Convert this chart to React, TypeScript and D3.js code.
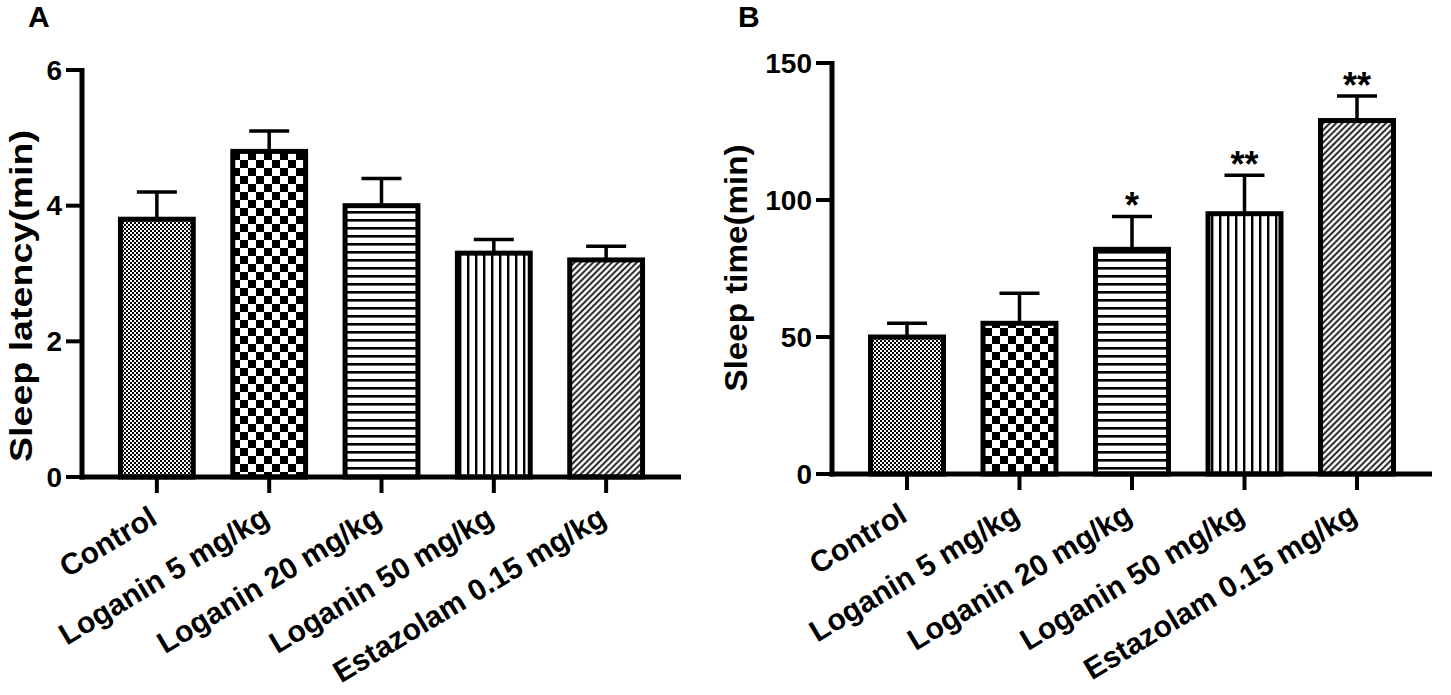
import * as d3 from "d3";

// groups shared by both panels
const groups = [
  "Control",
  "Loganin 5 mg/kg",
  "Loganin 20 mg/kg",
  "Loganin 50 mg/kg",
  "Estazolam 0.15 mg/kg",
];

// panel A: sleep latency (min), mean and upper error
const latencyMean = [3.8, 4.8, 4.0, 3.3, 3.2];
const latencyErr = [0.4, 0.3, 0.4, 0.2, 0.2];
const latencyTicks = [0, 2, 4, 6];

// panel B: sleep time (min), mean and upper error
const sleepMean = [50, 55, 82, 95, 129];
const sleepErr = [5, 11, 12, 14, 9];
const sleepTicks = [0, 50, 100, 150];
const sleepSig = ["", "", "*", "**", "**"];

const patternIds = ["fineCheck", "bigCheck", "hLines", "vLines", "diag"];

const FONT = "'Liberation Sans', Arial, Helvetica, sans-serif";

interface PanelProps {
  letter: string;
  letterX: number;
  title: string;
  titleX: number;
  titleY: number;
  titleLen: number;
  means: number[];
  errs: number[];
  ticks: number[];
  sig?: string[];
  x0: number;
  x1: number;
  yTop: number;
  yZero: number;
}

const Panel = (p: PanelProps) => {
  const xScale = d3
    .scaleBand<string>()
    .domain(groups)
    .range([p.x0, p.x1])
    .paddingInner(0.307)
    .paddingOuter(0.32);

  const yScale = d3
    .scaleLinear()
    .domain([0, d3.max(p.ticks) as number])
    .range([p.yZero, p.yTop]);

  const bw = xScale.bandwidth();

  return (
    <g>
      <text
        x={p.letterX}
        y={27}
        fontFamily={FONT}
        fontWeight="bold"
        fontSize={30}
      >
        {p.letter}
      </text>

      <text
        transform={`translate(${p.titleX}, ${p.titleY}) rotate(-90)`}
        textAnchor="middle"
        dominantBaseline="central"
        fontFamily={FONT}
        fontWeight="bold"
        fontSize={31}
        textLength={p.titleLen}
        lengthAdjust="spacingAndGlyphs"
      >
        {p.title}
      </text>

      {/* bars */}
      {groups.map((g, i) => {
        const x = xScale(g) as number;
        const y = yScale(p.means[i]);
        return (
          <rect
            key={g}
            x={x + 2.5}
            y={y}
            width={bw - 5}
            height={p.yZero - y}
            fill={`url(#${patternIds[i]})`}
            stroke="#000"
            strokeWidth={5}
          />
        );
      })}

      {/* error bars, upper only */}
      {groups.map((g, i) => {
        const cx = (xScale(g) as number) + bw / 2;
        const y = yScale(p.means[i]);
        const yc = yScale(p.means[i] + p.errs[i]);
        return (
          <g key={g} stroke="#000" strokeWidth={3.5}>
            <line x1={cx} x2={cx} y1={y} y2={yc} />
            <line x1={cx - 20} x2={cx + 20} y1={yc} y2={yc} />
          </g>
        );
      })}

      {/* significance marks */}
      {p.sig &&
        groups.map((g, i) => {
          if (!p.sig![i]) return null;
          const cx = (xScale(g) as number) + bw / 2;
          const yc = yScale(p.means[i] + p.errs[i]);
          return (
            <text
              key={g}
              x={cx}
              y={yc + 2}
              textAnchor="middle"
              fontFamily={FONT}
              fontWeight="bold"
              fontSize={36}
            >
              {p.sig![i]}
            </text>
          );
        })}

      {/* y axis */}
      <line
        x1={p.x0}
        x2={p.x0}
        y1={p.yTop - 2}
        y2={p.yZero + 2.5}
        stroke="#000"
        strokeWidth={5}
      />
      {p.ticks.map((t) => (
        <g key={t}>
          <line
            x1={p.x0 - 16}
            x2={p.x0}
            y1={yScale(t)}
            y2={yScale(t)}
            stroke="#000"
            strokeWidth={4}
          />
          <text
            x={p.x0 - 20}
            y={yScale(t)}
            textAnchor="end"
            dominantBaseline="central"
            fontFamily={FONT}
            fontWeight="bold"
            fontSize={28}
          >
            {t}
          </text>
        </g>
      ))}

      {/* x axis */}
      <line
        x1={p.x0 - 2.5}
        x2={p.x1}
        y1={p.yZero}
        y2={p.yZero}
        stroke="#000"
        strokeWidth={5}
      />
      {groups.map((g) => {
        const cx = (xScale(g) as number) + bw / 2;
        return (
          <g key={g}>
            <line
              x1={cx}
              x2={cx}
              y1={p.yZero}
              y2={p.yZero + 16}
              stroke="#000"
              strokeWidth={4}
            />
            <text
              transform={`translate(${cx + 2}, ${p.yZero + 46}) rotate(-31)`}
              textAnchor="end"
              fontFamily={FONT}
              fontWeight="bold"
              fontSize={30}
            >
              {g}
            </text>
          </g>
        );
      })}
    </g>
  );
};

const App = () => {
  return (
    <svg
      width={1451}
      height={695}
      style={{ position: "absolute", left: 0, top: 0, background: "#fff" }}
    >
      <defs>
        <pattern id="fineCheck" width={4} height={4} patternUnits="userSpaceOnUse">
          <rect width={4} height={4} fill="#fff" />
          <rect width={2} height={2} fill="#000" />
          <rect x={2} y={2} width={2} height={2} fill="#000" />
        </pattern>
        <pattern id="bigCheck" width={16} height={16} patternUnits="userSpaceOnUse">
          <rect width={16} height={16} fill="#fff" />
          <rect width={8} height={8} fill="#000" />
          <rect x={8} y={8} width={8} height={8} fill="#000" />
        </pattern>
        <pattern id="hLines" width={8} height={8} patternUnits="userSpaceOnUse">
          <rect width={8} height={8} fill="#fff" />
          <rect y={3} width={8} height={2.6} fill="#000" />
        </pattern>
        <pattern id="vLines" width={8} height={8} patternUnits="userSpaceOnUse">
          <rect width={8} height={8} fill="#fff" />
          <rect x={3} width={2.4} height={8} fill="#000" />
        </pattern>
        <pattern
          id="diag"
          width={4.4}
          height={4.4}
          patternUnits="userSpaceOnUse"
          patternTransform="rotate(45)"
        >
          <rect width={4.4} height={4.4} fill="#fff" />
          <rect x={1.4} width={1.7} height={4.4} fill="#000" />
        </pattern>
      </defs>

      <Panel
        letter="A"
        letterX={28}
        title="Sleep latency(min)"
        titleX={21}
        titleY={296}
        titleLen={332}
        means={latencyMean}
        errs={latencyErr}
        ticks={latencyTicks}
        x0={82}
        x1={681}
        yTop={70}
        yZero={477}
      />
      <Panel
        letter="B"
        letterX={738}
        title="Sleep time(min)"
        titleX={736}
        titleY={268}
        titleLen={247}
        means={sleepMean}
        errs={sleepErr}
        ticks={sleepTicks}
        sig={sleepSig}
        x0={832}
        x1={1432}
        yTop={63}
        yZero={474}
      />
    </svg>
  );
};

export default App;
